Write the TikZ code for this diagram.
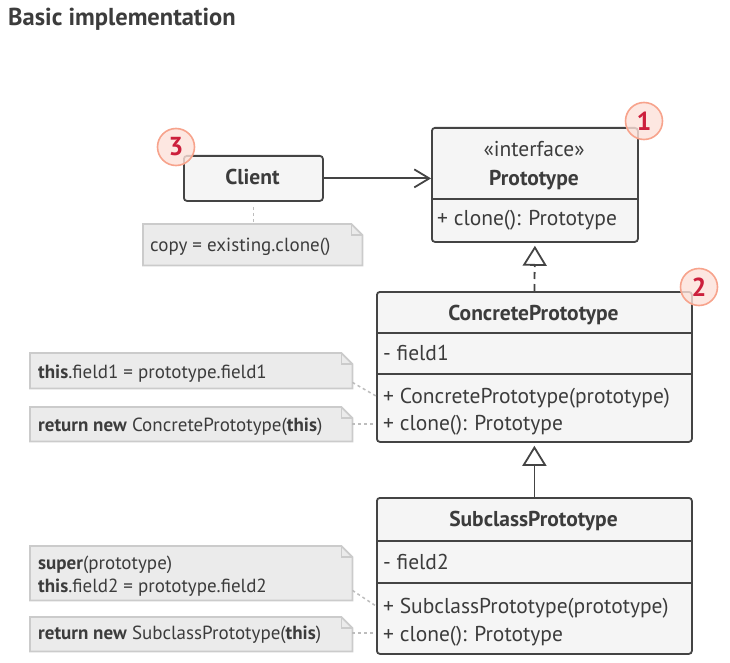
\documentclass[tikz,border=0pt]{standalone}
\usepackage{fontspec}
\setmainfont{PT Sans}
\usetikzlibrary{arrows.meta}
\definecolor{ink}{HTML}{444444}
\definecolor{txt}{HTML}{3c3c3c}
\definecolor{boxfill}{HTML}{F5F5F5}
\definecolor{notefill}{HTML}{EBEBEB}
\definecolor{noteline}{HTML}{CBCBCB}
\definecolor{linkline}{HTML}{BDBDBD}
\definecolor{badgefill}{HTML}{FDE1D9}
\definecolor{badgeline}{HTML}{F7A38C}
\definecolor{badgetext}{HTML}{CC1F3C}
\tikzset{
  classbox/.style={draw=ink, line width=1.8pt, fill=boxfill, rounded corners=3pt, inner sep=0pt, anchor=north west},
  divider/.style={draw=ink, line width=1.8pt},
  notearea/.style={inner sep=0pt, anchor=north west},
  noteshape/.style={draw=noteline, line width=1.8pt, fill=notefill},
  btxt/.style={text=txt, inner sep=0pt, anchor=base west, font=\fontsize{21.5}{24}\selectfont},
  htxt/.style={text=txt, inner sep=0pt, anchor=base, font=\fontsize{21.5}{24}\selectfont\bfseries},
  ntxt/.style={text=txt, inner sep=0pt, anchor=base west, font=\fontsize{19}{22}\selectfont},
  link/.style={draw=linkline, line width=1.5pt, dash pattern=on 3pt off 3pt},
  badge/.style={circle, minimum size=37pt, inner sep=0pt, fill=badgefill, fill opacity=0.8, text opacity=1, draw=badgeline, line width=1.6pt, text=badgetext, font=\fontsize{26}{26}\selectfont\bfseries},
  conn/.style={draw=ink, line width=1.8pt},
  hollowtip/.style={-{Triangle[open, length=20pt, width=24pt, line width=1.8pt, fill=white]}},
}
\newcommand{\notedraw}[1]{%
  \draw[noteshape] (#1.north west) -- ([xshift=-11pt]#1.north east) -- ([yshift=-11pt]#1.north east) -- (#1.south east) -- (#1.south west) -- cycle;
  \draw[draw=noteline, line width=1.5pt] ([xshift=-11pt]#1.north east) -- ([xshift=-11pt,yshift=-11pt]#1.north east) -- ([yshift=-11pt]#1.north east);
}
\begin{document}
\begin{tikzpicture}[x=1pt,y=-1pt]
\useasboundingbox (0,0) rectangle (730,663);

% title
\node[text=txt, inner sep=0pt, anchor=base west, font=\fontsize{24.5}{28}\selectfont\bfseries] (title) at (8,26) {Basic implementation};

% Client
\node[classbox, minimum width=139pt, minimum height=45pt] (client) at (183,155) {};
\node[htxt] (clientname) at (252.5,184.5) {Client};

% Prototype
\node[classbox, minimum width=206pt, minimum height=114pt] (proto) at (431,127) {};
\draw[divider] (proto.west |- 0,199) -- (proto.east |- 0,199);
\node[text=txt, inner sep=0pt, anchor=base, font=\fontsize{21.5}{24}\selectfont] (protost) at (534,157) {«interface»};
\node[htxt] (protoname) at (534,185.5) {Prototype};
\node[btxt] (protom1) at (437,225.5) {+ clone(): Prototype};

% ConcretePrototype
\node[classbox, minimum width=315pt, minimum height=150pt] (conc) at (376,291) {};
\draw[divider] (conc.west |- 0,333) -- (conc.east |- 0,333);
\draw[divider] (conc.west |- 0,374) -- (conc.east |- 0,374);
\node[htxt] (concname) at (533.5,320.5) {ConcretePrototype};
\node[btxt] (concf1) at (383,360.5) {- field1};
\node[btxt] (concm1) at (383,403.5) {+ ConcretePrototype(prototype)};
\node[btxt] (concm2) at (383,430.5) {+ clone(): Prototype};

% SubclassPrototype
\node[classbox, minimum width=315pt, minimum height=156pt] (sub) at (376,497) {};
\draw[divider] (sub.west |- 0,541) -- (sub.east |- 0,541);
\draw[divider] (sub.west |- 0,583) -- (sub.east |- 0,583);
\node[htxt] (subname) at (533.5,526.5) {SubclassPrototype};
\node[btxt] (subf1) at (383,569.5) {- field2};
\node[btxt] (subm1) at (383,613.5) {+ SubclassPrototype(prototype)};
\node[btxt] (subm2) at (383,641.5) {+ clone(): Prototype};

% notes
\node[notearea, minimum width=219pt, minimum height=41pt] (ncopy) at (143,224) {};
\notedraw{ncopy}
\node[ntxt] (ncopyt) at (150,251.5) {copy = existing.clone()};

\node[notearea, minimum width=322pt, minimum height=35pt] (n1) at (30,353) {};
\notedraw{n1}
\node[ntxt] (n1t) at (38,378.5) {\textbf{this}.field1 = prototype.field1};

\node[notearea, minimum width=322pt, minimum height=34pt] (n2) at (30,407) {};
\notedraw{n2}
\node[ntxt] (n2t) at (38,431.5) {\textbf{return new} ConcretePrototype(\textbf{this})};

\node[notearea, minimum width=322pt, minimum height=54pt] (n3) at (30,546) {};
\notedraw{n3}
\node[ntxt] (n3t) at (38,569.5) {\textbf{super}(prototype)};
\node[ntxt] (n3t2) at (38,592.5) {\textbf{this}.field2 = prototype.field2};

\node[notearea, minimum width=322pt, minimum height=34pt] (n4) at (30,617) {};
\notedraw{n4}
\node[ntxt] (n4t) at (38,639.5) {\textbf{return new} SubclassPrototype(\textbf{this})};

% note links
\coordinate (cl1) at (376,396);
\coordinate (cl2) at (376,424);
\coordinate (sl1) at (376,606);
\coordinate (sl2) at (376,633);
\draw[link] ([yshift=6pt]n1.south east) -- (cl1);
\draw[link] (n2.east |- cl2) -- (cl2);
\draw[link] ([yshift=10pt]n3.south east) -- (sl1);
\draw[link] (n4.east |- sl2) -- (sl2);
\draw[link] ([yshift=-5pt]client.south) -- (client.south |- ncopy.north);

% relations
\draw[conn, -{Straight Barb[length=15pt, width=18pt, line width=1.8pt]}] (client.east) -- (client.east -| proto.west);
\draw[conn, dash pattern=on 7pt off 5pt, hollowtip] (conc.north) -- ([yshift=-3pt]proto.south);
\draw[conn, hollowtip] (sub.north) -- ([yshift=-3pt]conc.south);

% badges
\node[badge] (b1) at (644,121) {1};
\node[badge] (b2) at (699,287) {2};
\node[badge] (b3) at (176,147) {3};
\end{tikzpicture}
\end{document}
